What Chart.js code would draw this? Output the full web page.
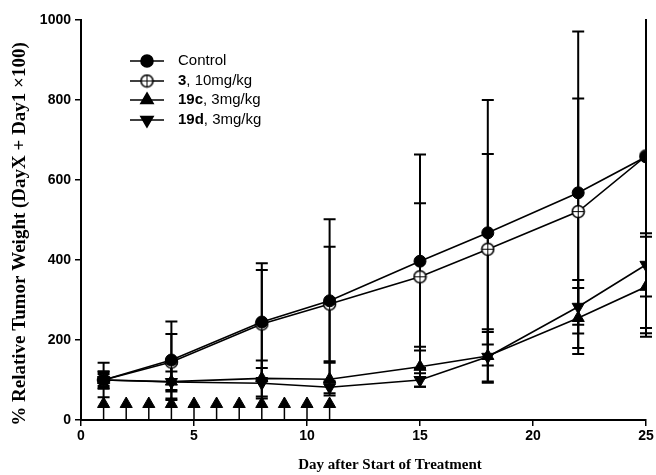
<!DOCTYPE html>
<html>
<head>
<meta charset="utf-8">
<script src="https://cdn.jsdelivr.net/npm/chart.js@4"></script>
<style>
	html, body { margin: 0; padding: 0; background: #fff; overflow: hidden; }
	#wrap { width: 656px; height: 475px; }
</style>
</head>
<body>
<div id="wrap"><canvas id="tumor_chart" width="656" height="475"></canvas></div>
<script>
// measurement days
const days = [1, 4, 8, 11, 15, 18, 22, 25]

// mean % relative tumour weight and error
const control = [100, 150, 245, 298, 397, 468, 568, 658]
const controlErr = [43, 96, 147, 204, 267, 332, 403, 441]
const cmp3 = [100, 145, 240, 290, 358, 427, 521, 660]
const cmp3Err = [22, 70, 135, 143, 184, 238, 283, 430]
const cmp19c = [100, 96, 104, 102, 133, 160, 255, 333]
const cmp19cErr = [20, 25, 45, 41, 50, 67, 75, 125]
const cmp19d = [100, 95, 92, 82, 100, 158, 283, 388]
const cmp19dErr = [15, 45, 38, 15, 17, 62, 67, 79]

// dosing days, marked with arrows along the axis
const doseDays = [1, 2, 3, 4, 5, 6, 7, 8, 9, 10, 11]
const doseArrowY = 40

const xTicks = [0, 5, 10, 15, 20, 25]
const yTicks = [0, 200, 400, 600, 800, 1000]

const legendNames = [
	['', 'Control'],
	['3', ', 10mg/kg'],
	['19c', ', 3mg/kg'],
	['19d', ', 3mg/kg'],
]

// open circle with a cross through it
function crossCircle() {
	const c = document.createElement('canvas')
	c.width = 15
	c.height = 15
	const g = c.getContext('2d')
	g.fillStyle = '#fff'
	g.strokeStyle = '#000'
	g.lineWidth = 1.6
	g.beginPath()
	g.arc(7.5, 7.5, 6, 0, Math.PI * 2)
	g.fill()
	g.stroke()
	g.lineWidth = 1
	g.beginPath()
	g.moveTo(7.5, 1.5)
	g.lineTo(7.5, 13.5)
	g.moveTo(1.5, 7.5)
	g.lineTo(13.5, 7.5)
	g.stroke()
	return c
}
const crossImg = crossCircle()

const toPoints = vals => vals.map((v, i) => ({ x: days[i], y: v }))

const series = [
	{ vals: control, err: controlErr, style: 'circle', radius: 6, rot: 0 },
	{ vals: cmp3, err: cmp3Err, style: crossImg, radius: 6, rot: 0 },
	{ vals: cmp19c, err: cmp19cErr, style: 'triangle', radius: 7, rot: 0 },
	{ vals: cmp19d, err: cmp19dErr, style: 'triangle', radius: 7, rot: 180 },
]

const datasets = series.map((s, i) => ({
	label: legendNames[i].join(''),
	data: toPoints(s.vals),
	borderColor: '#000',
	backgroundColor: '#000',
	borderWidth: 1.6,
	pointStyle: s.style,
	pointRadius: s.radius,
	pointRotation: s.rot,
	pointBorderWidth: 1,
	tension: 0,
}))

// dose arrows: the heads are points, the stems are drawn by the plugin
datasets.push({
	label: 'dose',
	data: doseDays.map(d => ({ x: d, y: doseArrowY })),
	showLine: false,
	borderColor: '#000',
	backgroundColor: '#000',
	pointStyle: 'triangle',
	pointRadius: 7,
	pointBorderWidth: 1,
})

// error bars and arrow stems
const errorBars = {
	id: 'errorBars',
	beforeDatasetsDraw(chart) {
		const { ctx, chartArea, scales } = chart
		const x = scales.x
		const y = scales.y
		ctx.save()
		ctx.beginPath()
		ctx.rect(chartArea.left, chartArea.top - 1, chartArea.right - chartArea.left + 10, chartArea.bottom - chartArea.top + 2)
		ctx.clip()
		ctx.strokeStyle = '#000'
		ctx.lineWidth = 2
		series.forEach(s => {
			s.vals.forEach((v, i) => {
				const px = x.getPixelForValue(days[i])
				const top = y.getPixelForValue(v + s.err[i])
				const bot = y.getPixelForValue(v - s.err[i])
				ctx.beginPath()
				ctx.moveTo(px, top)
				ctx.lineTo(px, bot)
				ctx.moveTo(px - 6, top)
				ctx.lineTo(px + 6, top)
				ctx.moveTo(px - 6, bot)
				ctx.lineTo(px + 6, bot)
				ctx.stroke()
			})
		})
		ctx.lineWidth = 1.5
		doseDays.forEach(d => {
			const px = x.getPixelForValue(d)
			ctx.beginPath()
			ctx.moveTo(px, y.getPixelForValue(0))
			ctx.lineTo(px, y.getPixelForValue(doseArrowY))
			ctx.stroke()
		})
		ctx.restore()
	},
}

// legend with bold compound numbers, plus the axis titles
const customText = {
	id: 'customText',
	afterDraw(chart) {
		const ctx = chart.ctx
		ctx.save()
		ctx.fillStyle = '#000'
		ctx.strokeStyle = '#000'
		ctx.textBaseline = 'middle'
		const rows = [61, 81, 100, 120]
		rows.forEach((ry, i) => {
			ctx.lineWidth = 1.6
			ctx.beginPath()
			ctx.moveTo(130, ry)
			ctx.lineTo(164, ry)
			ctx.stroke()
			const s = series[i]
			if (s.style === crossImg) {
				ctx.drawImage(crossImg, 147 - 7.5, ry - 7.5)
			} else {
				Chart.helpers.drawPoint(ctx, { pointStyle: s.style, radius: s.radius, rotation: s.rot, borderWidth: 1 }, 147, ry)
				ctx.fill()
			}
			let tx = 178
			const [bold, rest] = legendNames[i]
			if (bold) {
				ctx.font = 'bold 15px "Liberation Sans", Arial, sans-serif'
				ctx.fillText(bold, tx, ry)
				tx += ctx.measureText(bold).width
			}
			ctx.font = '15px "Liberation Sans", Arial, sans-serif'
			ctx.fillText(rest, tx, ry)
		})

		// axis titles
		ctx.font = 'bold 15px "Liberation Serif", "Times New Roman", serif'
		ctx.textAlign = 'center'
		ctx.fillText('Day after Start of Treatment', 390, 465)
		ctx.translate(20, 234)
		ctx.rotate(-Math.PI / 2)
		ctx.font = 'bold 19px "Liberation Serif", "Times New Roman", serif'
		ctx.fillText('% Relative Tumor Weight (DayX + Day1 ×100)', 0, 0)
		ctx.restore()
	},
}

const tickFont = { family: '"Liberation Sans", Arial, sans-serif', size: 14, weight: 'bold' }

const options = {
	type: 'line',
	data: { datasets },
	options: {
		responsive: false,
		animation: false,
		layout: { padding: { top: 20, right: 10, left: 0, bottom: 0 } },
		plugins: {
			legend: { display: false },
			tooltip: { enabled: false },
		},
		scales: {
			x: {
				type: 'linear',
				min: 0,
				max: 25,
				afterBuildTicks: scale => { scale.ticks = xTicks.map(v => ({ value: v })) },
				afterFit: scale => { scale.height = 55 },
				ticks: { color: '#000', font: tickFont, padding: 2, maxRotation: 0, callback: v => String(v) },
				grid: { drawOnChartArea: false, color: '#000', tickLength: 6, lineWidth: 1.5 },
				border: { color: '#000', width: 2 },
			},
			y: {
				min: 0,
				max: 1000,
				afterBuildTicks: scale => { scale.ticks = yTicks.map(v => ({ value: v })) },
				afterFit: scale => { scale.width = 81 },
				ticks: { color: '#000', font: tickFont, padding: 4, callback: v => String(v) },
				grid: { drawOnChartArea: false, color: '#000', tickLength: 6, lineWidth: 1.5 },
				border: { color: '#000', width: 2 },
			},
		},
	},
	plugins: [errorBars, customText],
}

const ctx = document.getElementById('tumor_chart')
const tumorChart = new Chart(ctx, options)
</script>
</body>
</html>
